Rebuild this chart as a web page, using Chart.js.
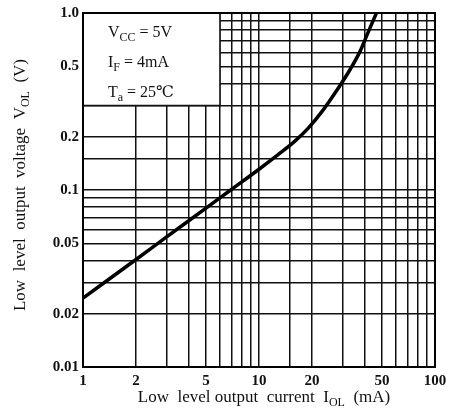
<!DOCTYPE html>
<html>
<head>
<meta charset="utf-8">
<script src="https://cdn.jsdelivr.net/npm/chart.js@4"></script>
<style>
  html, body { margin: 0; padding: 0; background: #fff; }
  #wrap { width: 462px; height: 411px; }
</style>
</head>
<body>
<div id="wrap"><canvas id="myChart"></canvas></div>
<script>
// Low level output current I_OL (mA) vs output voltage V_OL (V)
const currentMA = [1, 2, 3, 5, 7, 10, 13, 16, 19, 23, 28, 33, 37.5, 41.5, 46.5];
const voltageV = [0.0245, 0.0405, 0.0545, 0.079, 0.101, 0.131, 0.16, 0.189, 0.223, 0.281, 0.372, 0.481, 0.607, 0.77, 1.0];

// labelled ticks
const xTickValues = [1, 2, 5, 10, 20, 50, 100];
const yTickValues = [0.01, 0.02, 0.05, 0.1, 0.2, 0.5, 1];
const yTickText = ["0.01", "0.02", "0.05", "0.1", "0.2", "0.5", "1.0"];

// conditions box
const conditions = [
  [["V", false], ["CC", true], [" = 5V", false]],
  [["I", false], ["F", true], [" = 4mA", false]],
  [["T", false], ["a", true], [" = 25℃", false]],
];
const xTitle = [["Low  level output  current  I", false], ["OL", true], ["  (mA)", false]];
const yTitle = [["Low  level  output  voltage  V", false], ["OL", true], ["  (V)", false]];

const serif = '"Liberation Serif", "DejaVu Serif", serif';

function drawRich(ctx, parts, x, y, size, weight) {
  // draws text centred on x, with subscript parts
  const big = weight + " " + size + "px " + serif;
  const small = weight + " " + Math.round(size * 0.72) + "px " + serif;
  let total = 0;
  for (const p of parts) {
    ctx.font = p[1] ? small : big;
    total += ctx.measureText(p[0]).width;
  }
  let cx = x - total / 2;
  for (const p of parts) {
    ctx.font = p[1] ? small : big;
    ctx.fillText(p[0], cx, p[1] ? y + size * 0.28 : y);
    cx += ctx.measureText(p[0]).width;
  }
}

function drawRichLeft(ctx, parts, x, y, size) {
  let cx = x;
  for (const p of parts) {
    ctx.font = (p[1] ? Math.round(size * 0.72) : size) + "px " + serif;
    ctx.fillText(p[0], cx, p[1] ? y + size * 0.28 : y);
    cx += ctx.measureText(p[0]).width;
  }
}

const overlay = {
  id: "overlay",
  beforeDatasetsDraw(chart) {
    const ctx = chart.ctx;
    const xs = chart.scales.x;
    const ys = chart.scales.y;
    const a = chart.chartArea;
    const right = xs.getPixelForValue(6);
    const bottom = ys.getPixelForValue(0.3);
    ctx.save();
    ctx.fillStyle = "#fff";
    ctx.fillRect(a.left, a.top, right - a.left, bottom - a.top);
    ctx.strokeStyle = "#111";
    ctx.lineWidth = 1.5;
    ctx.beginPath();
    ctx.moveTo(a.left, bottom);
    ctx.lineTo(right, bottom);
    ctx.lineTo(right, a.top);
    ctx.stroke();
    ctx.fillStyle = "#111";
    ctx.textBaseline = "middle";
    for (let i = 0; i < conditions.length; i++) {
      drawRichLeft(ctx, conditions[i], a.left + 25, a.top + 20 + i * 30, 16);
    }
    ctx.restore();
  },
  afterDraw(chart) {
    const ctx = chart.ctx;
    const a = chart.chartArea;
    ctx.save();
    ctx.strokeStyle = "#000";
    ctx.lineWidth = 2;
    ctx.strokeRect(a.left, a.top, a.right - a.left, a.bottom - a.top);
    ctx.fillStyle = "#111";
    ctx.textBaseline = "middle";
    drawRich(ctx, xTitle, 264, 398, 17, "normal");
    ctx.translate(21, 185);
    ctx.rotate(-Math.PI / 2);
    drawRich(ctx, yTitle, 0, 0, 17, "normal");
    ctx.restore();
  },
};

new Chart("myChart", {
  type: "line",
  data: {
    labels: currentMA,
    datasets: [
      {
        label: "V_OL",
        data: currentMA.map((c, i) => ({ x: c, y: voltageV[i] })),
        borderColor: "#000",
        borderWidth: 3.5,
        pointRadius: 0,
        fill: false,
        cubicInterpolationMode: "monotone",
      },
    ],
  },
  options: {
    responsive: true,
    maintainAspectRatio: false,
    animation: false,
    layout: { padding: { top: 8, right: 27, left: 0, bottom: 0 } },
    plugins: {
      legend: { display: false },
      tooltip: { enabled: false },
    },
    scales: {
      x: {
        type: "logarithmic",
        min: 1,
        max: 100,
        afterFit: (scale) => { scale.height = 44; },
        grid: { color: "#111", lineWidth: 1.5, drawTicks: false },
        border: { display: false },
        ticks: {
          padding: 5,
          autoSkip: false,
          maxRotation: 0,
          color: "#111",
          font: { family: serif, size: 15, weight: "bold" },
          callback: (v) => (xTickValues.includes(v) ? String(v) : ""),
        },
      },
      y: {
        type: "logarithmic",
        min: 0.01,
        max: 1,
        afterFit: (scale) => { scale.width = 83; },
        grid: { color: "#111", lineWidth: 1.5, drawTicks: false },
        border: { display: false },
        ticks: {
          padding: 4,
          autoSkip: false,
          color: "#111",
          font: { family: serif, size: 15, weight: "bold" },
          callback: (v) => {
            const k = yTickValues.findIndex((t) => Math.abs(t - v) < 1e-9);
            return k >= 0 ? yTickText[k] : "";
          },
        },
      },
    },
  },
  plugins: [overlay],
});
</script>
</body>
</html>
